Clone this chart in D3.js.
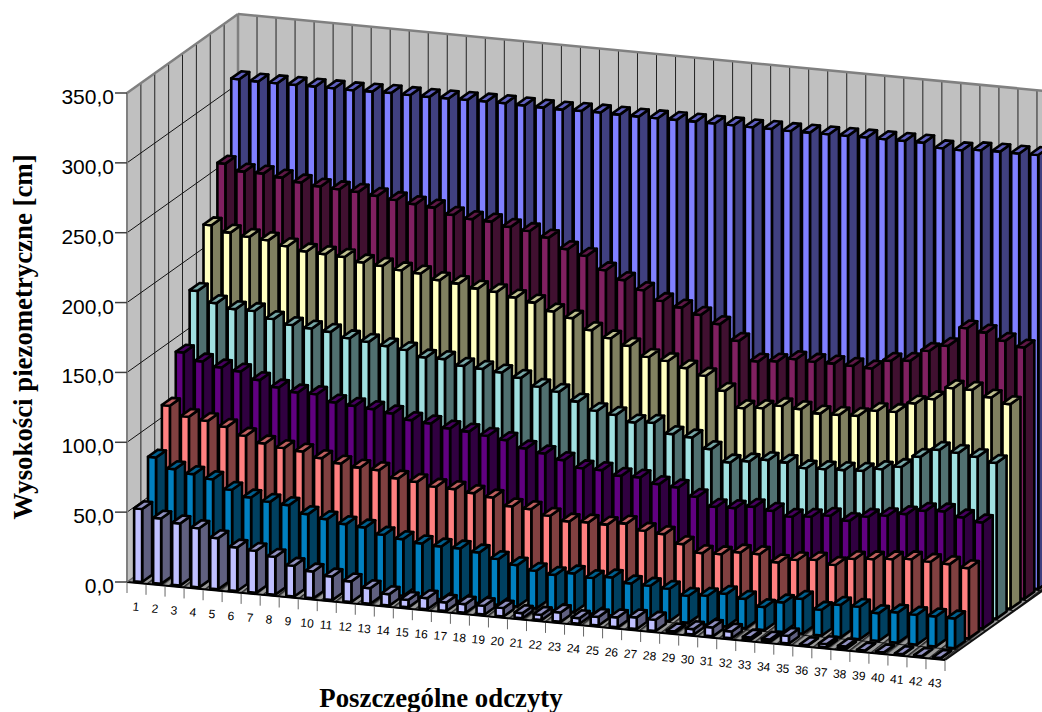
<!DOCTYPE html>
<html>
<head>
<meta charset="utf-8">
<style>
    html, body { margin: 0; padding: 0; background: #fff; overflow: hidden; }
    svg { display: block; }
</style>
<script src="https://d3js.org/d3.v7.min.js"></script>
</head>
<body>
<div id="vis"></div>
<script>
    // values, front row first
    const readings = d3.range(1, 44);
    const tickLabels = ["0,0", "50,0", "100,0", "150,0", "200,0", "250,0", "300,0", "350,0"];
    const tickValues = [0, 50, 100, 150, 200, 250, 300, 350];

    const row1 = [52.2,46.7,44.5,42.4,36.6,31.2,30.1,27.1,22,19.2,16.9,14.7,11.2,8.2,5.4,7.9,6.1,6.2,6.4,6,3.7,3.8,6.7,4,6.2,7.1,8.4,8,1,3.9,6.4,4.8,1.8,1.6,5.6,0.3,2.3,1.9,0.3,0.3,0.3,0.3,0.3];
    const row2 = [82,75,72.7,70.4,64.1,59.9,58.1,57,51.9,49.6,47.3,46.2,42.3,40.5,38.7,37.8,37.7,36.1,32.7,29.7,26.9,25.3,27.6,25.6,27.3,24.3,24,23.1,19.4,20.7,23.4,21.1,16.5,21.1,25,18.5,23.3,23.2,20,21.7,21.4,21.5,21.3];
    const row3 = [112,105.4,103.8,100.8,95.7,91.5,89.5,88.3,84.9,82.3,80.7,80.2,75.5,74.4,72.2,71.8,70.2,68.4,63.3,62.7,59.2,56.4,57,56.8,58.8,55,53.9,48,42.9,43.4,45.9,46,41.4,44.4,45.7,43.5,49,50.2,51.5,52.8,52.3,51.9,50.3];
    const row4 = [143,137.9,134.9,133.3,128.5,124.5,122.2,122.3,117.6,116.5,115.5,113.7,110.2,109.1,106.8,105.9,104.2,102.4,97.7,95.4,92,87.5,87.4,84.6,84.7,81.3,80.2,74.8,68.9,69.3,71.5,69.9,67,68.3,70.3,68,72.2,74.2,76.7,80.3,81.2,78.2,75.9];
    const row5 = [180.1,172.6,169.6,169.6,165.1,162.1,160.9,159.8,156.6,155.3,153.5,152,148,148.1,144.6,143.7,142.4,139.9,134.8,132.5,126.8,121.5,119.9,115.7,116.8,110,108.9,101.9,93.6,95.6,97.9,97.4,94.7,95.3,95.9,96.7,99.2,102.1,110.6,116.9,116.1,114.5,111.5];
    const row6 = [220,216,214.3,213.2,210.2,207.7,207.1,206.4,203.7,202.6,200.8,199.7,196.3,195.1,192.8,191.8,189,186.7,181.6,178.2,170.9,166.4,162.2,155.6,154,150.2,146,136.5,125.4,126.7,129.6,128.6,126.7,127.1,127.7,132.6,133.1,140.4,144.8,154,154.1,149.9,146.5];
    const row7 = [257,252.6,252.5,250.9,248.7,247.1,246.5,245.9,244.3,242.7,241,239.8,235.9,234.2,233.7,231.2,229.6,226.1,219.2,215.7,206.7,200.9,195,188.6,185.1,181.2,175.9,165.2,151.7,153,156,155.5,155.4,155.1,154.5,161.3,162.6,171,175.9,189.8,188,183.4,179.9];
    const row8 = [310.4,310,310.1,310.2,310.3,310.4,310.3,310.6,311,310.8,310.7,310.9,311.2,311.3,311.4,311.1,310.8,310.7,311.1,311.2,311,310.9,311,311.1,311.2,311.1,311.2,311,311.2,311,311.1,311.2,311.4,311.5,311.6,311.7,311.7,309,308.9,310.2,310.5,310.4,310.7];

    const rows = [row1, row2, row3, row4, row5, row6, row7, row8];

    // front, side and top colour of each row
    const frontColors = ["#c0c0ff", "#0080c0", "#ff8080", "#600080", "#a0e0e0", "#ffffc0", "#802060", "#8080ff"];
    const sideColors  = ["#606080", "#004060", "#804040", "#300040", "#507070", "#808060", "#401030", "#404080"];
    const topColors   = ["#9090c0", "#006090", "#c06060", "#480060", "#78a8a8", "#c0c090", "#601848", "#6060c0"];

    const width = 1042, height = 712;

    const svg = d3.select("#vis").append("svg")
        .attr("width", width)
        .attr("height", height);

    // oblique projection: categories run right and down, rows run right and up
    const catX = d3.scaleLinear().domain([0, 43]).range([127, 945]);
    const catY = d3.scaleLinear().domain([0, 43]).range([582, 660]);
    const depthX = d3.scaleLinear().domain([0, 8]).range([0, 111]);
    const depthY = d3.scaleLinear().domain([0, 8]).range([0, -79]);
    const valueH = d3.scaleLinear().domain([0, 350]).range([0, 489]);

    function project(c, d, v) {
        return [catX(c) + depthX(d), catY(c) + depthY(d) - valueH(v)];
    }
    function poly(points) {
        return points.map(p => p.join(",")).join(" ");
    }

    // floor hatching
    const defs = svg.append("defs");
    const hatch = defs.append("pattern")
        .attr("id", "floorHatch")
        .attr("patternUnits", "userSpaceOnUse")
        .attr("width", 5)
        .attr("height", 5)
        .attr("patternTransform", "rotate(-38)");
    hatch.append("rect").attr("width", 5).attr("height", 5).attr("fill", "#9a9a9a");
    hatch.append("rect").attr("width", 5).attr("height", 1.6).attr("fill", "#222");

    const walls = svg.append("g");

    // back wall, left wall, floor
    walls.append("polygon")
        .attr("points", poly([project(0, 8, 0), project(0, 8, 350), project(43, 8, 350), project(43, 8, 0)]))
        .attr("fill", "#c0c0c0");
    walls.append("polygon")
        .attr("points", poly([project(0, 0, 0), project(0, 0, 350), project(0, 8, 350), project(0, 8, 0)]))
        .attr("fill", "#c0c0c0");
    walls.append("polygon")
        .attr("points", poly([project(0, 0, 0), project(43, 0, 0), project(43, 8, 0), project(0, 8, 0)]))
        .attr("fill", "url(#floorHatch)");

    function gridLine(a, b, color, w) {
        walls.append("line")
            .attr("x1", a[0]).attr("y1", a[1])
            .attr("x2", b[0]).attr("y2", b[1])
            .attr("stroke", color)
            .attr("stroke-width", w);
    }

    // wall grid
    d3.range(1, 43).forEach(c => gridLine(project(c, 8, 0), project(c, 8, 350), "#222", 1));
    d3.range(1, 8).forEach(d => gridLine(project(0, d, 0), project(0, d, 350), "#222", 1));
    tickValues.slice(1, -1).forEach(v => {
        gridLine(project(0, 0, v), project(0, 8, v), "#111", 1);
        gridLine(project(0, 8, v), project(43, 8, v), "#111", 1);
    });

    // floor grid
    d3.range(0, 9).forEach(d => gridLine(project(0, d, 0), project(43, d, 0), "#111", 1));

    // wall frame
    gridLine(project(0, 0, 0), project(0, 0, 350), "#808080", 2);
    gridLine(project(0, 0, 350), project(0, 8, 350), "#808080", 2.5);
    gridLine(project(0, 8, 350), project(43, 8, 350), "#808080", 2.5);
    gridLine(project(0, 8, 0), project(0, 8, 350), "#808080", 2.5);
    gridLine(project(43, 0, 0), project(43, 8, 0), "#111", 2);
    gridLine(project(0, 0, 0), project(43, 0, 0), "#000", 2);
    gridLine(project(0, 0, 0), project(0, 8, 0), "#666", 1.5);

    // bars, back row first
    const barGap = 0.28, barWide = 0.42, rowGap = 0.13, rowDeep = 0.72;
    const bars = svg.append("g")
        .attr("stroke", "#000")
        .attr("stroke-width", 2.6)
        .attr("stroke-linejoin", "round");

    d3.range(rows.length - 1, -1, -1).forEach(r => {
        const g = bars.append("g").attr("class", "row" + (r + 1));
        const bar = g.selectAll("g")
            .data(rows[r])
            .enter()
            .append("g");

        const c0 = (i) => i + barGap, c1 = (i) => i + barGap + barWide;
        const d0 = r + rowGap, d1 = r + rowGap + rowDeep;

        bar.append("polygon")
            .attr("fill", sideColors[r])
            .attr("points", (v, i) => poly([project(c1(i), d0, 0), project(c1(i), d1, 0), project(c1(i), d1, v), project(c1(i), d0, v)]));
        bar.append("polygon")
            .attr("fill", frontColors[r])
            .attr("points", (v, i) => poly([project(c0(i), d0, 0), project(c1(i), d0, 0), project(c1(i), d0, v), project(c0(i), d0, v)]));
        bar.append("polygon")
            .attr("fill", topColors[r])
            .attr("points", (v, i) => poly([project(c0(i), d0, v), project(c1(i), d0, v), project(c1(i), d1, v), project(c0(i), d1, v)]));
    });

    // value axis
    const valueAxis = svg.append("g");
    tickValues.forEach((v, i) => {
        const p = project(0, 0, v);
        valueAxis.append("line")
            .attr("x1", p[0] - 12).attr("y1", p[1])
            .attr("x2", p[0]).attr("y2", p[1])
            .attr("stroke", "#404040")
            .attr("stroke-width", 1.5);
        valueAxis.append("text")
            .attr("x", p[0] - 13)
            .attr("y", p[1] + 11)
            .attr("text-anchor", "end")
            .attr("font-family", "Liberation Sans")
            .attr("font-size", 21)
            .attr("fill", "#000")
            .text(tickLabels[i]);
    });

    // category axis
    const catAxis = svg.append("g");
    d3.range(0, 44).forEach(c => {
        const p = project(c, 0, 0);
        catAxis.append("line")
            .attr("x1", p[0]).attr("y1", p[1] + 1)
            .attr("x2", p[0]).attr("y2", p[1] + 11)
            .attr("stroke", "#666")
            .attr("stroke-width", 1);
    });
    readings.forEach((label, i) => {
        const p = project(i + 0.5, 0, 0);
        catAxis.append("text")
            .attr("transform", "translate(" + (p[0] - 1) + "," + (p[1] + 28) + ") rotate(5.4)")
            .attr("text-anchor", "middle")
            .attr("font-family", "Liberation Sans")
            .attr("font-size", 12)
            .attr("fill", "#000")
            .text(label);
    });

    // axis titles
    svg.append("text")
        .attr("x", 441)
        .attr("y", 707)
        .attr("text-anchor", "middle")
        .attr("font-family", "Liberation Serif")
        .attr("font-weight", "bold")
        .attr("font-size", 26.8)
        .text("Poszczególne odczyty");

    svg.append("text")
        .attr("transform", "translate(32,337) rotate(-90)")
        .attr("text-anchor", "middle")
        .attr("font-family", "Liberation Serif")
        .attr("font-weight", "bold")
        .attr("font-size", 26.8)
        .text("Wysokości piezometryczne [cm]");
</script>
</body>
</html>
